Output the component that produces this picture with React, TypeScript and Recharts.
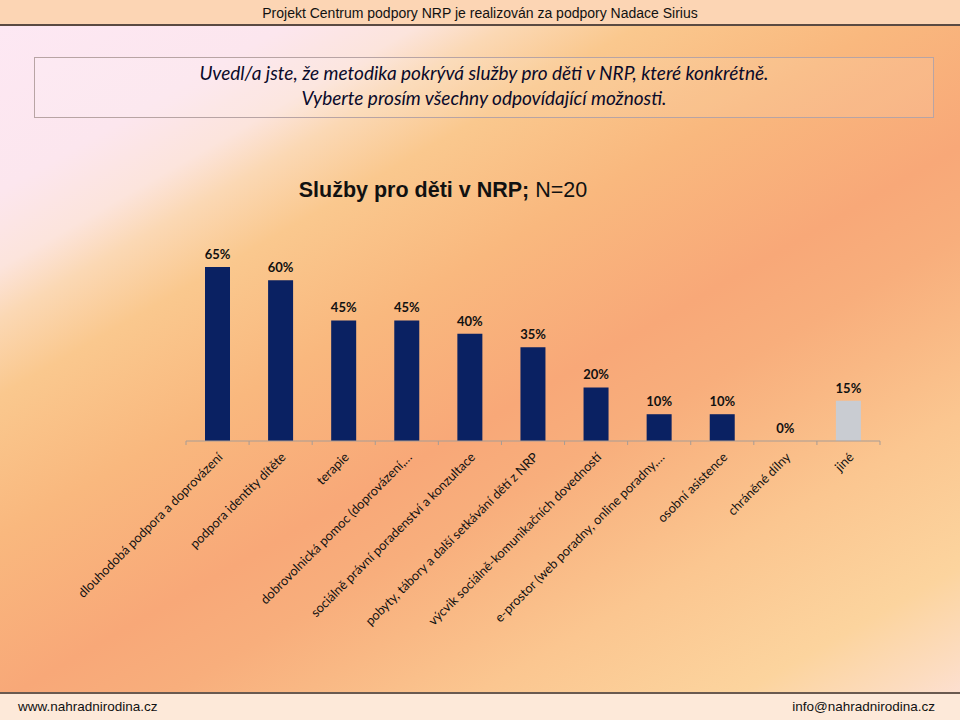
import React from 'react';
import { ComposedChart, Bar, Line, XAxis, YAxis, Cell, LabelList } from 'recharts';

const categories: string[] = [
  'dlouhodobá podpora a doprovázení',
  'podpora identity dítěte',
  'terapie',
  'dobrovolnická pomoc (doprovázení,…',
  'sociálně právní poradenství a konzultace',
  'pobyty, tábory a další setkávání dětí z NRP',
  'výcvik sociálně-komunikačních dovedností',
  'e-prostor (web poradny, online poradny,…',
  'osobní asistence',
  'chráněné dílny',
  'jiné',
];
const values: number[] = [0.65, 0.6, 0.45, 0.45, 0.4, 0.35, 0.2, 0.1, 0.1, 0, 0.15];

const headerText = 'Projekt Centrum podpory NRP je realizován za podpory Nadace Sirius';
const questionLine1 = 'Uvedl/a jste, že metodika pokrývá služby pro děti v NRP, které konkrétně.';
const questionLine2 = 'Vyberte prosím všechny odpovídající možnosti.';
const chartTitleBold = 'Služby pro děti v NRP;';
const chartTitleRest = ' N=20';
const footerLeft = 'www.nahradnirodina.cz';
const footerRight = 'info@nahradnirodina.cz';

const data = categories.map((name, i) => ({ name, value: values[i] }));

const NAVY = '#0a2162';
const GRAY = '#c9ccd2';
const PLOT_LEFT = 186;
const PLOT_RIGHT = 880;
const BAND = (PLOT_RIGHT - PLOT_LEFT) / categories.length;

const Tick = (props: any) => {
  const { x, y, payload } = props;
  const isLast = payload.value === categories[categories.length - 1];
  return (
    <g transform={`translate(${x},${y})`}>
      <line x1={-BAND / 2} y1={0} x2={-BAND / 2} y2={4} stroke="#a89c94" strokeWidth={1} />
      {isLast && <line x1={BAND / 2} y1={0} x2={BAND / 2} y2={4} stroke="#a89c94" strokeWidth={1} />}
      <text
        x={0}
        y={0}
        transform="translate(6,17) rotate(-45)"
        textAnchor="end"
        fontFamily="Lato, 'Open Sans', sans-serif"
        fontSize={12.8}
        fill="#111"
      >
        {payload.value}
      </text>
    </g>
  );
};

const fmt = (v: any) => `${Math.round(Number(v) * 100)}%`;

export default function App() {
  return (
    <div
      style={{
        position: 'absolute',
        left: 0,
        top: 0,
        width: 960,
        height: 720,
        overflow: 'hidden',
        background:
          'linear-gradient(150deg, #fde8f4 0%, #fce6ee 15%, #fce4dc 21%, #fbd8b4 25%, #fac88e 31%, #f9b87e 42%, #f8a878 55%, #f8ae7c 62%, #f9b884 68%, #fbc690 76%, #fcd49e 88%, #fcdcc0 95%, #fde2dc 100%)',
      }}
    >
      {/* header */}
      <div
        style={{
          position: 'absolute',
          left: 0,
          top: 0,
          width: 960,
          height: 26,
          background: '#fcd5b4',
          borderBottom: '2px solid #5a4a42',
          boxSizing: 'border-box',
          textAlign: 'center',
          fontFamily: "'Liberation Sans', Arial, sans-serif",
          fontSize: 14,
          lineHeight: '26px',
          color: '#111',
        }}
      >
        {headerText}
      </div>

      {/* question box */}
      <div
        style={{
          position: 'absolute',
          left: 34,
          top: 57,
          width: 900,
          height: 61,
          border: '1px solid #b8a4a4',
          boxSizing: 'border-box',
          background: 'rgba(255,255,255,0.10)',
          textAlign: 'center',
          fontFamily: "Lato, 'Open Sans', sans-serif",
          fontStyle: 'italic',
          fontSize: 19,
          color: '#0a0a2a',
        }}
      >
        <div style={{ position: 'absolute', left: 0, right: 0, top: 3, lineHeight: '24px' }}>{questionLine1}</div>
        <div style={{ position: 'absolute', left: 0, right: 0, top: 28, lineHeight: '24px' }}>{questionLine2}</div>
      </div>

      {/* chart title */}
      <div
        style={{
          position: 'absolute',
          left: 0,
          width: 886,
          top: 175,
          textAlign: 'center',
          fontFamily: "'Liberation Sans', Arial, sans-serif",
          fontSize: 21.5,
          lineHeight: '30px',
          color: '#111',
        }}
      >
        <span style={{ fontWeight: 'bold' }}>{chartTitleBold}</span>
        <span>{chartTitleRest}</span>
      </div>

      <div style={{ position: 'absolute', left: 0, top: 0 }}>
        <ComposedChart
          width={960}
          height={720}
          data={data}
          margin={{ top: 253.5, right: 960 - PLOT_RIGHT, bottom: 79, left: PLOT_LEFT }}
        >
          <YAxis hide domain={[0, 0.7]} />
          <XAxis
            dataKey="name"
            height={200}
            interval={0}
            tickLine={false}
            tickSize={0}
            tickMargin={0}
            axisLine={{ stroke: '#a89c94' }}
            tick={(p: any) => <Tick {...p} />}
          />
          <Bar dataKey="value" barSize={25} isAnimationActive={false}>
            {data.map((d, i) => (
              <Cell key={d.name} fill={i === data.length - 1 ? GRAY : NAVY} />
            ))}
          </Bar>
          <Line
            dataKey="value"
            stroke="none"
            dot={false}
            activeDot={false}
            legendType="none"
            isAnimationActive={false}
          >
            <LabelList
              dataKey="value"
              position="top"
              offset={8}
              formatter={fmt}
              style={{ fontFamily: "Lato, 'Open Sans', sans-serif", fontWeight: 'bold', fontSize: 13 }}
              fill="#111"
            />
          </Line>
        </ComposedChart>
      </div>

      {/* footer */}
      <div
        style={{
          position: 'absolute',
          left: 0,
          top: 692,
          width: 960,
          height: 28,
          background: '#fde9d9',
          borderTop: '2px solid #6a5a50',
          boxSizing: 'border-box',
          fontFamily: "'Liberation Sans', Arial, sans-serif",
          fontSize: 13.5,
          lineHeight: '26px',
          color: '#111',
        }}
      >
        <span style={{ position: 'absolute', left: 18 }}>{footerLeft}</span>
        <span style={{ position: 'absolute', right: 25 }}>{footerRight}</span>
      </div>
    </div>
  );
}
